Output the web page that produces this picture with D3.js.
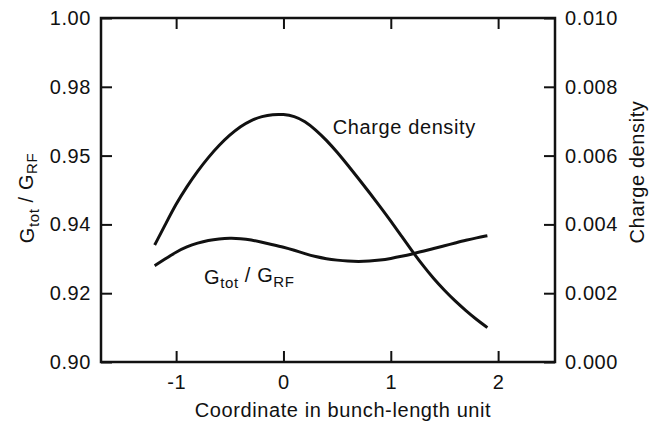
<!DOCTYPE html>
<html>
<head>
<meta charset="utf-8">
<script src="https://cdn.jsdelivr.net/npm/d3@7"></script>
<style>
  body { margin: 0; background: #fff; }
  text { font-family: "Liberation Sans", Arial, sans-serif; fill: #111; letter-spacing: 0.6px; }
</style>
</head>
<body>
<div id="chart"></div>
<script>
// values
let xs = [-1.2, -1.1, -1.0, -0.9, -0.8, -0.7, -0.6, -0.5, -0.4, -0.3, -0.2, -0.1, 0.0,
          0.1, 0.2, 0.3, 0.4, 0.5, 0.6, 0.7, 0.8, 0.9, 1.0, 1.1, 1.2, 1.3, 1.4, 1.5,
          1.6, 1.7, 1.8, 1.9]

// charge density (right axis)
let charge = [0.0034, 0.0040, 0.0046, 0.0051, 0.00555, 0.00595, 0.0063, 0.0066, 0.00685,
              0.00703, 0.00714, 0.0072, 0.0072, 0.00715, 0.0070, 0.00675, 0.00645, 0.0061,
              0.00572, 0.00533, 0.00493, 0.00452, 0.0041, 0.00366, 0.00322, 0.0028, 0.00242,
              0.00208, 0.00177, 0.00149, 0.00123, 0.0010]

// Gtot / GRF (left axis)
let gRatio = [0.9280, 0.9300, 0.9320, 0.9335, 0.9346, 0.9354, 0.9358, 0.9360, 0.9359,
              0.9355, 0.9348, 0.9341, 0.9334, 0.9325, 0.9315, 0.9306, 0.9300, 0.9296,
              0.9293, 0.9292, 0.9293, 0.9296, 0.9301, 0.9307, 0.9314, 0.9322, 0.9330,
              0.9338, 0.9346, 0.9354, 0.9361, 0.9367]

let xTicks = [-1, 0, 1, 2]
let xTickLabels = ["-1", "0", "1", "2"]
let leftTicks = [0.90, 0.92, 0.94, 0.96, 0.98, 1.00]
let leftTickLabels = ["0.90", "0.92", "0.94", "0.95", "0.98", "1.00"]  // as printed
let rightTicks = [0, 0.002, 0.004, 0.006, 0.008, 0.010]
let rightTickLabels = ["0.000", "0.002", "0.004", "0.006", "0.008", "0.010"]

let width = 662,
    height = 425
let margin = {top: 18, right: 107, bottom: 63, left: 101}
let innerW = width - margin.left - margin.right,
    innerH = height - margin.top - margin.bottom

let svg = d3.select("#chart")
  .append("svg")
  .attr("width", width)
  .attr("height", height)

svg.append("rect").attr("width", width).attr("height", height).attr("fill", "#fff")

let g = svg.append("g")
  .attr("transform", "translate(" + margin.left + "," + margin.top + ")")

let x = d3.scaleLinear().domain([-1.7, 2.53]).range([0, innerW])
let yL = d3.scaleLinear().domain([0.90, 1.00]).range([innerH, 0])
let yR = d3.scaleLinear().domain([0, 0.010]).range([innerH, 0])

// axes, ticks pointing inward on all four sides
function styleAxis(sel) {
  sel.select(".domain").remove()
  sel.selectAll(".tick line").attr("stroke", "#111").attr("stroke-width", 2)
  sel.selectAll(".tick text")
    .style("font-size", "20px")
    .style("font-family", "'Liberation Sans', Arial, sans-serif")
    .attr("fill", "#111")
}

g.append("g")
  .attr("transform", "translate(0," + innerH + ")")
  .call(d3.axisBottom(x).tickValues(xTicks).tickSize(-11).tickPadding(13)
    .tickFormat((d, i) => xTickLabels[i]))
  .call(styleAxis)

g.append("g")
  .call(d3.axisTop(x).tickValues(xTicks).tickSize(-11).tickFormat(""))
  .call(styleAxis)

g.append("g")
  .call(d3.axisLeft(yL).tickValues(leftTicks).tickSize(-11).tickPadding(10)
    .tickFormat((d, i) => leftTickLabels[i]))
  .call(styleAxis)

g.append("g")
  .attr("transform", "translate(" + innerW + ",0)")
  .call(d3.axisRight(yR).tickValues(rightTicks).tickSize(-11).tickPadding(10)
    .tickFormat((d, i) => rightTickLabels[i]))
  .call(styleAxis)

// frame
g.append("rect")
  .attr("width", innerW)
  .attr("height", innerH)
  .attr("fill", "none")
  .attr("stroke", "#111")
  .attr("stroke-width", 2.5)

// curves
let chargeLine = d3.line()
  .x((d, i) => x(xs[i]))
  .y(d => yR(d))
  .curve(d3.curveBasis)

let gLine = d3.line()
  .x((d, i) => x(xs[i]))
  .y(d => yL(d))
  .curve(d3.curveBasis)

g.append("path")
  .attr("d", chargeLine(charge))
  .attr("fill", "none")
  .attr("stroke", "#111")
  .attr("stroke-width", 3)

g.append("path")
  .attr("d", gLine(gRatio))
  .attr("fill", "none")
  .attr("stroke", "#111")
  .attr("stroke-width", 3)

// curve labels
g.append("text")
  .attr("x", x(0.46))
  .attr("y", yR(0.00663))
  .style("font-size", "20px")
  .text("Charge density")

let gLab = g.append("text")
  .attr("x", x(-0.74))
  .attr("y", yL(0.9227))
  .style("font-size", "20px")
gLab.append("tspan").text("G")
gLab.append("tspan").attr("dy", "0.3em").style("font-size", "15px").text("tot")
gLab.append("tspan").attr("dy", "-0.3em").text(" / G")
gLab.append("tspan").attr("dy", "0.3em").style("font-size", "15px").text("RF")

// axis titles
svg.append("text")
  .attr("x", margin.left + innerW / 2 + 15)
  .attr("y", 417)
  .attr("text-anchor", "middle")
  .style("font-size", "20px")
  .text("Coordinate in bunch-length unit")

let lt = svg.append("text")
  .attr("transform", "translate(34,198) rotate(-90)")
  .attr("text-anchor", "middle")
  .style("font-size", "20px")
lt.append("tspan").text("G")
lt.append("tspan").attr("dy", "0.3em").style("font-size", "15px").text("tot")
lt.append("tspan").attr("dy", "-0.3em").text(" / G")
lt.append("tspan").attr("dy", "0.3em").style("font-size", "15px").text("RF")

svg.append("text")
  .attr("transform", "translate(644,172) rotate(-90)")
  .attr("text-anchor", "middle")
  .style("font-size", "20px")
  .text("Charge density")
</script>
</body>
</html>
